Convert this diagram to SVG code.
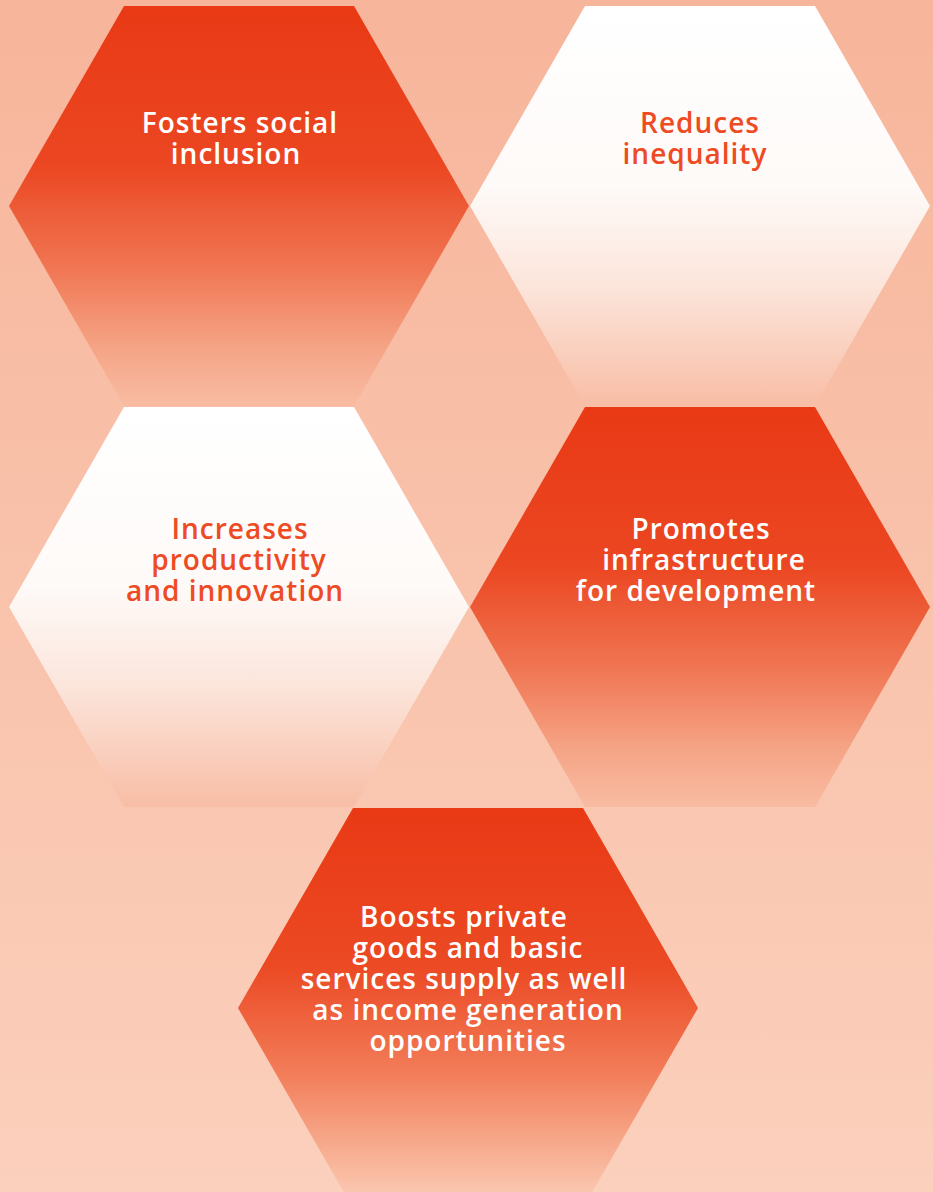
<svg xmlns="http://www.w3.org/2000/svg" width="933" height="1192" viewBox="0 0 933 1192">
<defs>
<linearGradient id="bg" x1="0" y1="0" x2="0" y2="1">
<stop offset="0" stop-color="#F7B59B"/>
<stop offset="1" stop-color="#FBD0BC"/>
</linearGradient>
<linearGradient id="red" x1="0" y1="0" x2="0" y2="1">
<stop offset="0" stop-color="#E93915"/>
<stop offset="0.4" stop-color="#EB4722"/>
<stop offset="0.65" stop-color="#F07552"/>
<stop offset="0.85" stop-color="#F5A385"/>
<stop offset="1" stop-color="#F8BCA3"/>
</linearGradient>
<linearGradient id="white" x1="0" y1="0" x2="0" y2="1">
<stop offset="0" stop-color="#FFFFFF"/>
<stop offset="0.45" stop-color="#FEFAF8"/>
<stop offset="0.7" stop-color="#FCE5DB"/>
<stop offset="0.85" stop-color="#FAD1C0"/>
<stop offset="1" stop-color="#F8BDA5"/>
</linearGradient>
<linearGradient id="red5" x1="0" y1="0" x2="0" y2="1">
<stop offset="0" stop-color="#E93915"/>
<stop offset="0.4" stop-color="#EB4A24"/>
<stop offset="0.65" stop-color="#F27A56"/>
<stop offset="0.85" stop-color="#F7AC8F"/>
<stop offset="1" stop-color="#FBCFBA"/>
</linearGradient>
</defs>
<style>
text{font-family:"Open Sans","Noto Sans",sans-serif;font-weight:600;font-size:28px;letter-spacing:1px;text-anchor:middle;}
.w{fill:#FFFFFF;}
.o{fill:#EE4B24;}
</style>
<rect x="0" y="0" width="933" height="1192" fill="url(#bg)"/>
<g id="node1">
<polygon points="124,6 354,6 469,206 354,406 124,406 9,206" fill="url(#red)"/>
<text class="w" x="240" y="133">Fosters social</text>
<text class="w" x="236" y="164">inclusion</text>
</g>
<g id="node2">
<polygon points="585,6 815,6 930,206 815,406 585,406 470,206" fill="url(#white)"/>
<text class="o" x="700" y="133">Reduces</text>
<text class="o" x="695" y="164">inequality</text>
</g>
<g id="node3">
<polygon points="124,407 354,407 469,607 354,807 124,807 9,607" fill="url(#white)"/>
<text class="o" x="240" y="539">Increases</text>
<text class="o" x="239" y="570">productivity</text>
<text class="o" x="235" y="601">and innovation</text>
</g>
<g id="node4">
<polygon points="585,407 815,407 930,607 815,807 585,807 470,607" fill="url(#red)"/>
<text class="w" x="701" y="539">Promotes</text>
<text class="w" x="704" y="570">infrastructure</text>
<text class="w" x="696" y="601">for development</text>
</g>
<g id="node5">
<polygon points="353,808 583,808 698,1008 583,1208 353,1208 238,1008" fill="url(#red5)"/>
<text class="w" x="464" y="927">Boosts private</text>
<text class="w" x="468" y="958">goods and basic</text>
<text class="w" x="464" y="989">services supply as well</text>
<text class="w" x="468" y="1020">as income generation</text>
<text class="w" x="468" y="1051">opportunities</text>
</g>
<g id="connectors"/>
</svg>
